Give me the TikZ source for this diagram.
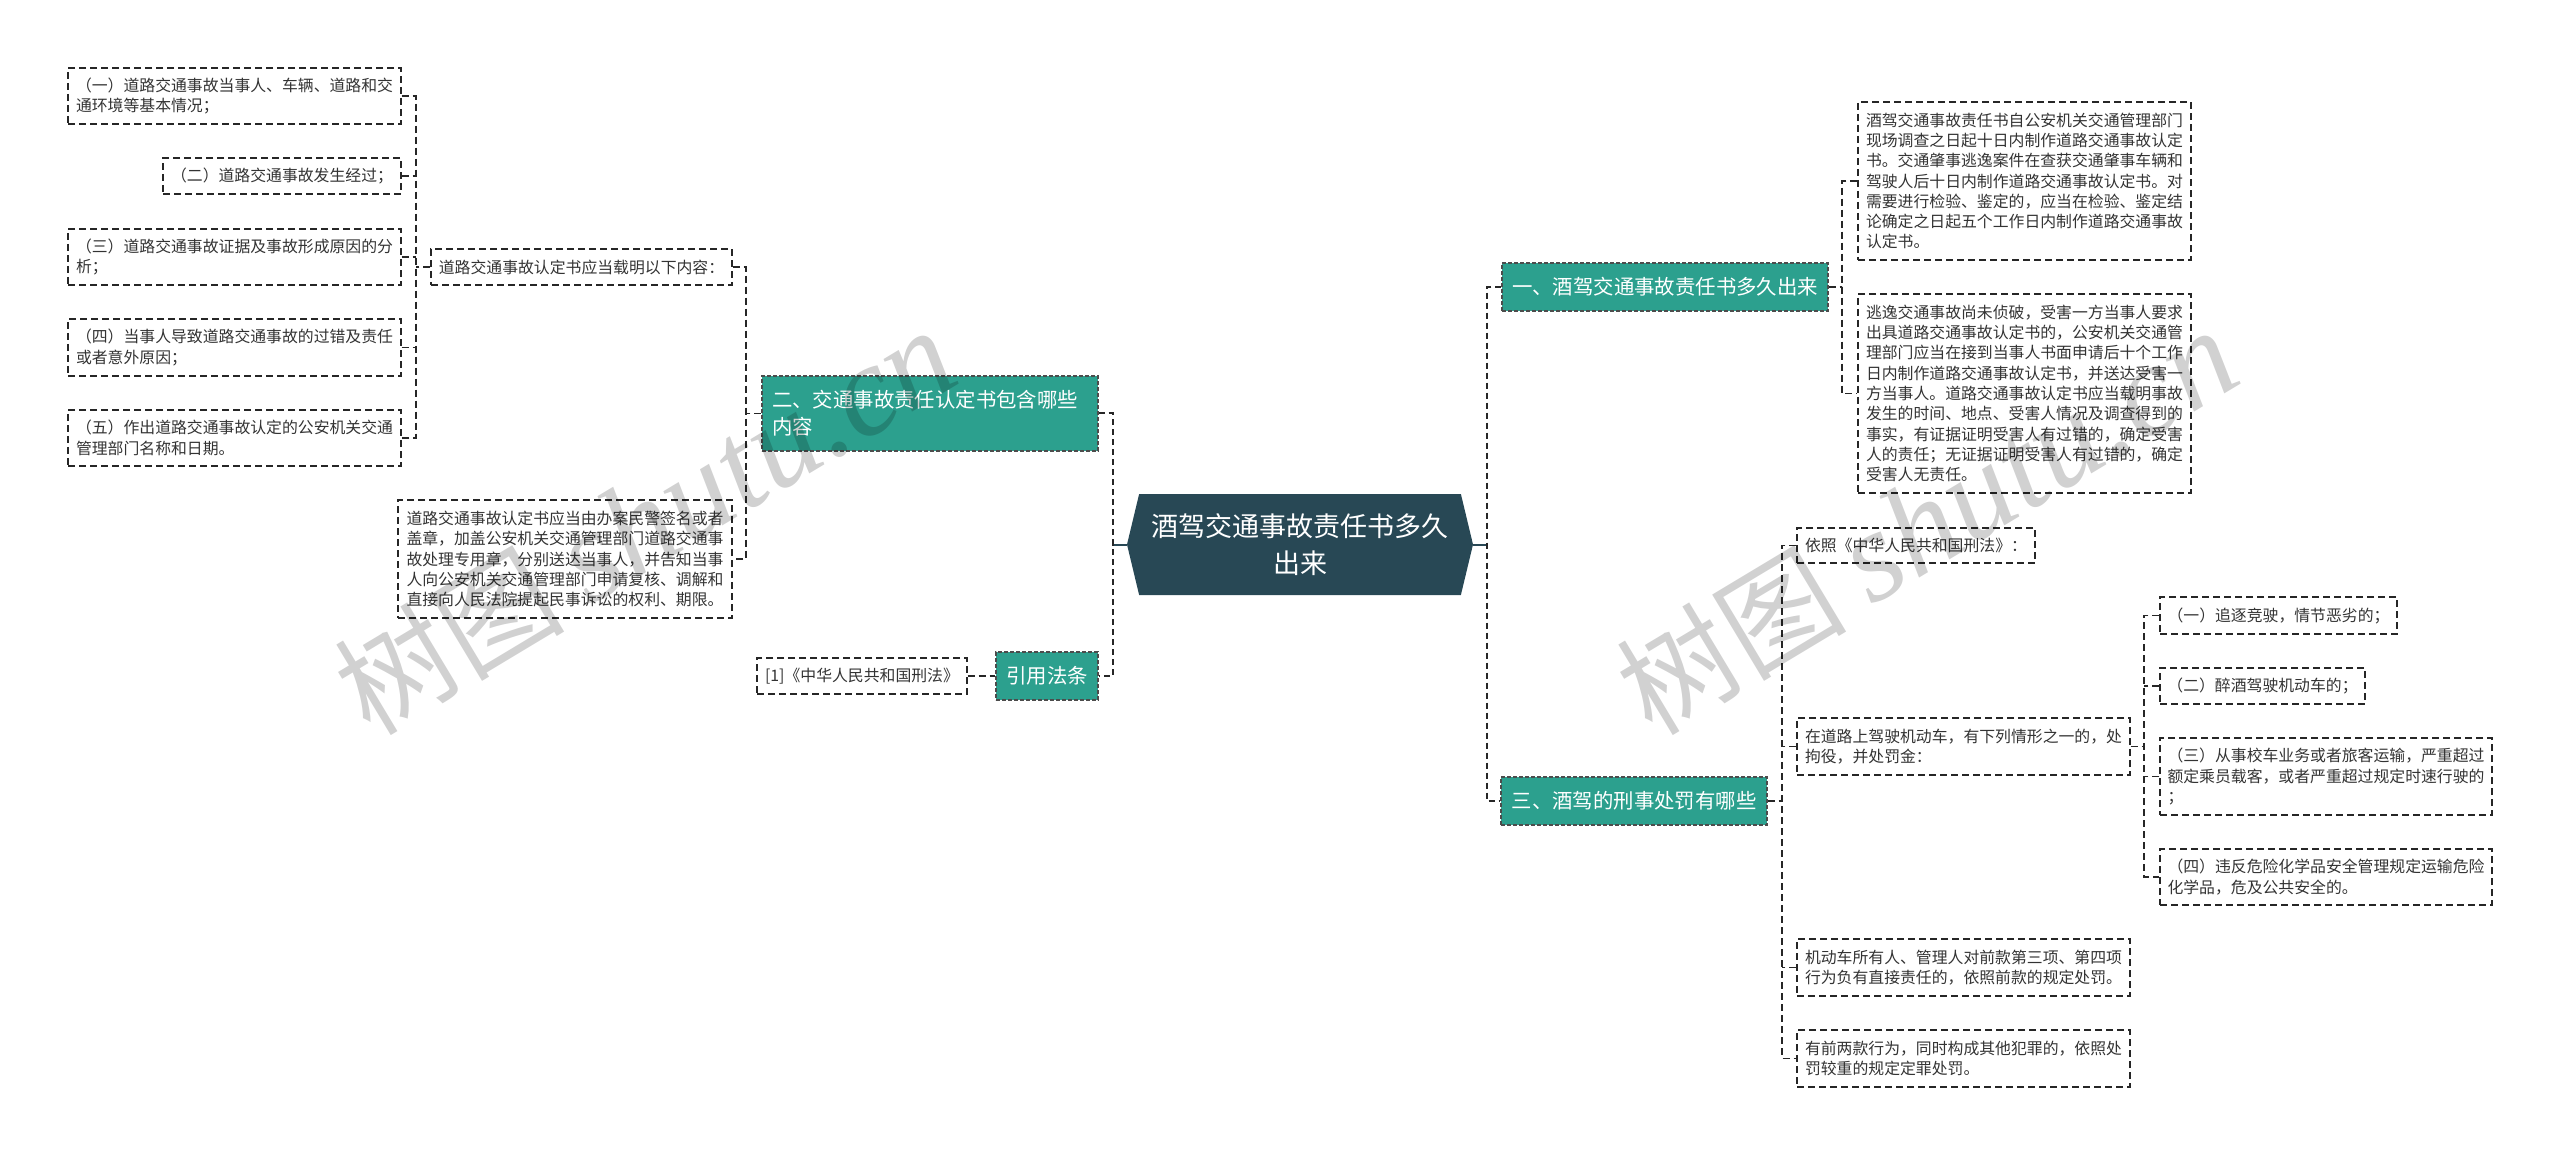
\documentclass[tikz,border=0pt]{standalone}
\usepackage{fontspec}
\setmainfont{Noto Sans CJK SC}
\newfontfamily\marklatin{Liberation Serif}
\usetikzlibrary{shapes.symbols}
\definecolor{rootfill}{HTML}{284855}
\definecolor{secfill}{HTML}{2CA08E}
\definecolor{textgray}{HTML}{333333}
\tikzset{
leaf/.style={draw=black!85,line width=1.3pt,dash pattern=on 7pt off 4pt,text=textgray,align=left,inner sep=0pt,font=\fontsize{15.85}{20.3}\selectfont},
sec/.style={draw=black!70,line width=1.2pt,dash pattern=on 4pt off 2pt,fill=secfill,text=white,align=left,inner sep=0pt,font=\fontsize{20.4}{27}\selectfont},
link/.style={draw=black!85,line width=1.3pt,dash pattern=on 7pt off 4pt},
branch/.style={draw=black!85,line width=2pt,dash pattern=on 6pt off 4pt},
rootlink/.style={draw=rootfill,line width=2pt},
watermark/.style={rotate=31,text=black,opacity=.18,font=\fontsize{115}{115}\selectfont}
}
\begin{document}
\begin{tikzpicture}[x=1pt,y=-1pt]
\useasboundingbox (0,0) rectangle (2560,1155);

\node (root) [signal,signal to=west and east,signal pointer angle=153,minimum width=346pt,minimum height=101pt,inner sep=0pt,fill=rootfill,text=white,align=center,font=\fontsize{27}{37}\selectfont] at (1300,544.5)
{酒驾交通事故责任书多久\\出来};

\node (secOne) [sec,minimum width=326pt,minimum height=48pt] at (1665,287) {一、酒驾交通事故责任书多久出来};
\node (secTwo) [sec,text width=316pt,inner xsep=10pt,minimum height=75pt] at (930,413.5) {二、交通事故责任认定书包含哪些\\内容};
\node (secLaw) [sec,minimum width=102pt,minimum height=48pt] at (1047,676) {引用法条};
\node (secThree) [sec,minimum width=266pt,minimum height=48pt] at (1634,801) {三、酒驾的刑事处罚有哪些};

\node (oneA) [leaf,minimum width=333pt,minimum height=158pt] at (2024.5,181) {酒驾交通事故责任书自公安机关交通管理部门\\现场调查之日起十日内制作道路交通事故认定\\书。交通肇事逃逸案件在查获交通肇事车辆和\\驾驶人后十日内制作道路交通事故认定书。对\\需要进行检验、鉴定的，应当在检验、鉴定结\\论确定之日起五个工作日内制作道路交通事故\\认定书。};
\node (oneB) [leaf,minimum width=333pt,minimum height=199pt] at (2024.5,393.5) {逃逸交通事故尚未侦破，受害一方当事人要求\\出具道路交通事故认定书的，公安机关交通管\\理部门应当在接到当事人书面申请后十个工作\\日内制作道路交通事故认定书，并送达受害一\\方当事人。道路交通事故认定书应当载明事故\\发生的时间、地点、受害人情况及调查得到的\\事实，有证据证明受害人有过错的，确定受害\\人的责任；无证据证明受害人有过错的，确定\\受害人无责任。};

\node (twoA) [leaf,minimum width=301pt,minimum height=36pt] at (581.5,267) {道路交通事故认定书应当载明以下内容：};
\node (twoB) [leaf,minimum width=334pt,minimum height=118pt] at (565,559) {道路交通事故认定书应当由办案民警签名或者\\盖章，加盖公安机关交通管理部门道路交通事\\故处理专用章，分别送达当事人，并告知当事\\人向公安机关交通管理部门申请复核、调解和\\直接向人民法院提起民事诉讼的权利、期限。};
\node (itemA) [leaf,minimum width=333pt,minimum height=56pt] at (234.5,96) {（一）道路交通事故当事人、车辆、道路和交\\通环境等基本情况；};
\node (itemB) [leaf,minimum width=238pt,minimum height=36pt] at (282,176) {（二）道路交通事故发生经过；};
\node (itemC) [leaf,minimum width=333pt,minimum height=56pt] at (234.5,257) {（三）道路交通事故证据及事故形成原因的分\\析；};
\node (itemD) [leaf,minimum width=333pt,minimum height=57pt] at (234.5,347.5) {（四）当事人导致道路交通事故的过错及责任\\或者意外原因；};
\node (itemE) [leaf,minimum width=333pt,minimum height=56pt] at (234.5,438) {（五）作出道路交通事故认定的公安机关交通\\管理部门名称和日期。};
\node (lawA) [leaf,minimum width=210pt,minimum height=36pt] at (862,676) {[1]《中华人民共和国刑法》};

\node (threeA) [leaf,minimum width=238pt,minimum height=35pt] at (1916,545.5) {依照《中华人民共和国刑法》：};
\node (threeB) [leaf,minimum width=333pt,minimum height=57pt] at (1963.5,746.5) {在道路上驾驶机动车，有下列情形之一的，处\\拘役，并处罚金：};
\node (threeC) [leaf,minimum width=333pt,minimum height=57pt] at (1963.5,967.5) {机动车所有人、管理人对前款第三项、第四项\\行为负有直接责任的，依照前款的规定处罚。};
\node (threeD) [leaf,minimum width=333pt,minimum height=57pt] at (1963.5,1058.5) {有前两款行为，同时构成其他犯罪的，依照处\\罚较重的规定定罪处罚。};
\node (subA) [leaf,minimum width=237pt,minimum height=37pt] at (2278.5,615.5) {（一）追逐竞驶，情节恶劣的；};
\node (subB) [leaf,minimum width=205pt,minimum height=36pt] at (2262.5,686) {（二）醉酒驾驶机动车的；};
\node (subC) [leaf,minimum width=332pt,minimum height=77pt] at (2326,776.5) {（三）从事校车业务或者旅客运输，严重超过\\额定乘员载客，或者严重超过规定时速行驶的\\；};
\node (subD) [leaf,minimum width=332pt,minimum height=56pt] at (2326,877) {（四）违反危险化学品安全管理规定运输危险\\化学品，危及公共安全的。};

\coordinate (busRootL) at (1113,544.5);
\coordinate (busRootR) at (1487,544.5);
\coordinate (busOne) at (1842,287);
\coordinate (busTwo) at (746,413.5);
\coordinate (busItem) at (416,267);
\coordinate (busThree) at (1782,801);
\coordinate (busSub) at (2144,746.5);

\draw[rootlink] (root.west) -- (busRootL);
\draw[rootlink] (root.east) -- (busRootR);
\draw[branch] (secTwo.east) -| (busRootL) |- (secLaw.east);
\draw[branch] (secOne.west) -| (busRootR) |- (secThree.west);

\draw[link] (secOne.east) -- (busOne);
\draw[link] (oneA.west) -| (busOne) |- (oneB.west);

\draw[link] (secTwo.west) -- (busTwo);
\draw[link] (twoA.east) -| (busTwo) |- (twoB.east);
\draw[link] (twoA.west) -- (busItem);
\draw[link] (itemA.east) -| (busItem) |- (itemE.east);
\draw[link] (itemB.east) -- (itemB.east -| busItem);
\draw[link] (itemC.east) -- (itemC.east -| busItem);
\draw[link] (itemD.east) -- (itemD.east -| busItem);
\draw[link] (lawA.east) -- (secLaw.west);

\draw[link] (secThree.east) -- (busThree);
\draw[link] (threeA.west) -| (busThree) |- (threeD.west);
\draw[link] (threeB.west) -- (threeB.west -| busThree);
\draw[link] (threeC.west) -- (threeC.west -| busThree);
\draw[link] (threeB.east) -- (busSub);
\draw[link] (subA.west) -| (busSub) |- (subD.west);
\draw[link] (subB.west) -- (subB.west -| busSub);
\draw[link] (subC.west) -- (subC.west -| busSub);

\node (markL) [watermark] at (645,522) {树图 {\marklatin\itshape\fontsize{130}{130}\selectfont shutu.cn}};
\node (markR) [watermark] at (1927,522) {树图 {\marklatin\itshape\fontsize{130}{130}\selectfont shutu.cn}};
\end{tikzpicture}
\end{document}
